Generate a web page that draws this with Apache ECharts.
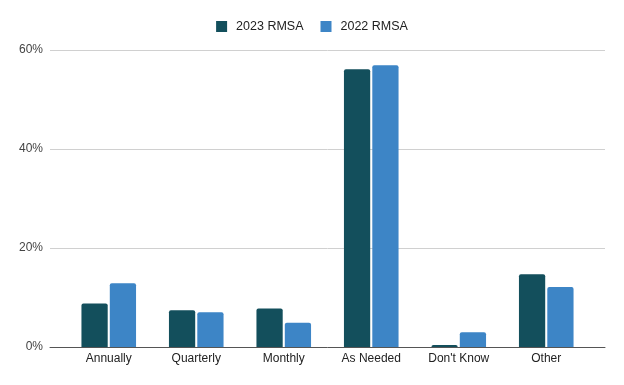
<!DOCTYPE html>
<html>
<head>
<meta charset="utf-8">
<script src="https://cdn.jsdelivr.net/npm/echarts@6/dist/echarts.min.js"></script>
<style>html,body{margin:0;padding:0;background:#fff;}#c{width:624px;height:385px;}</style>
</head>
<body>
<div id="c"></div>
<script>
const categories = ['Annually', 'Quarterly', 'Monthly', 'As Needed', "Don't Know", 'Other'];
const series2023 = [8.8, 7.4, 7.8, 56.1, 0.4, 14.7];
const series2022 = [12.9, 7.0, 4.9, 56.9, 3.0, 12.1];
const seriesNames = ['2023 RMSA', '2022 RMSA'];
const yTicks = [0, 20, 40, 60];

const chart = echarts.init(document.getElementById('c'), null, {renderer: 'canvas'});
const font = 'Liberation Sans, Arial, sans-serif';
chart.setOption({
  animation: false,
  color: ['#134f5c', '#3d85c6'],
  legend: {
    top: 15, left: 'center',
    itemWidth: 11, itemHeight: 11, itemGap: 17,
    icon: 'rect',
    textStyle: {fontFamily: font, fontSize: 12.5, color: '#222', padding: [0, 0, 0, 4]},
    data: seriesNames
  },
  grid: [
    {left: 50, right: 19, top: 50, bottom: 38},
    {left: 65, right: 34, top: 50, bottom: 38}
  ],
  xAxis: [
    {gridIndex: 0, type: 'category', data: [''], axisLine: {show: true, lineStyle: {color: '#555', width: 1}}, axisTick: {show: false}, axisLabel: {show: false}},
    {gridIndex: 1, type: 'category', data: categories, axisLine: {show: false}, axisTick: {show: false},
     axisLabel: {fontFamily: font, fontSize: 12, color: '#222', margin: 6, interval: 0}}
  ],
  yAxis: [
    {gridIndex: 0, type: 'value', min: yTicks[0], max: yTicks[yTicks.length - 1], interval: 20,
     axisLine: {show: false}, axisTick: {show: false},
     splitLine: {lineStyle: {color: '#d0d0d0'}},
     axisLabel: {formatter: '{value}%', fontFamily: font, fontSize: 12, color: '#444', margin: 7}},
    {gridIndex: 1, type: 'value', min: yTicks[0], max: yTicks[yTicks.length - 1], interval: 20,
     show: false, splitLine: {show: false}}
  ],
  series: [
    {name: seriesNames[0], type: 'bar', xAxisIndex: 1, yAxisIndex: 1, data: series2023,
     barWidth: '30%', barGap: '8%', itemStyle: {borderRadius: [2, 2, 0, 0]}},
    {name: seriesNames[1], type: 'bar', xAxisIndex: 1, yAxisIndex: 1, data: series2022,
     barWidth: '30%', barGap: '8%', itemStyle: {borderRadius: [2, 2, 0, 0]}}
  ]
});
</script>
</body>
</html>
